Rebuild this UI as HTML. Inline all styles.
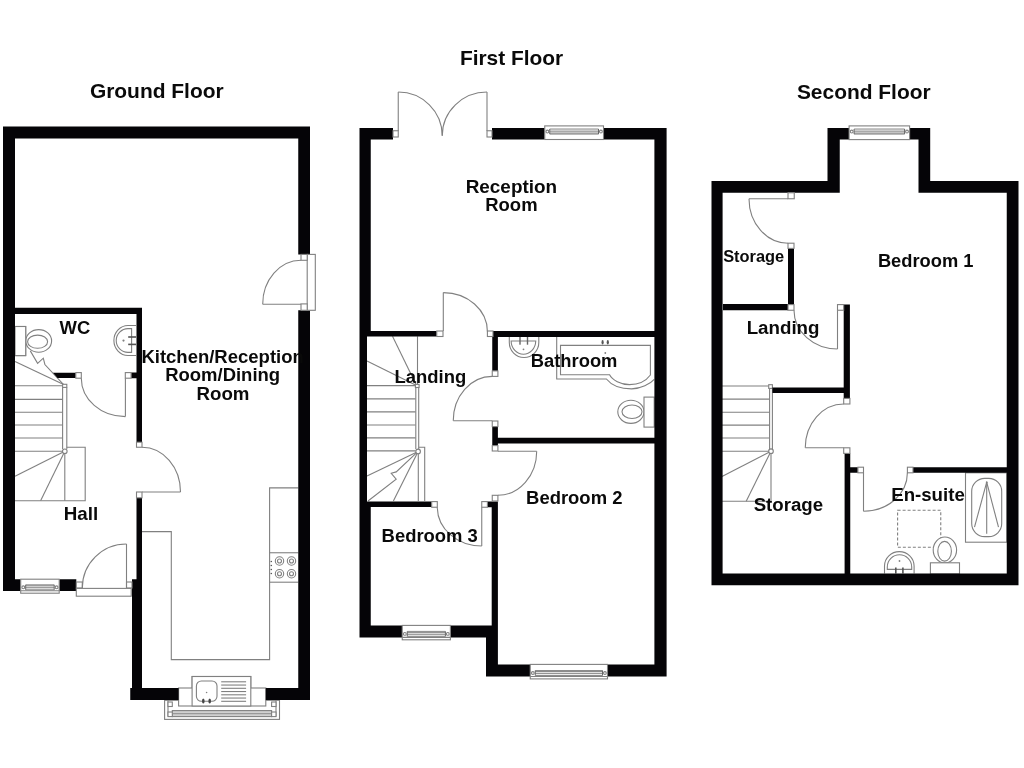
<!DOCTYPE html>
<html><head><meta charset="utf-8"><style>
html,body{margin:0;padding:0;background:#fff;width:1024px;height:768px;overflow:hidden}
svg{display:block}
text{font-family:"Liberation Sans",sans-serif;font-weight:bold;fill:#0a0a0a}
.tg{will-change:transform}
</style></head><body>
<svg width="1024" height="768" viewBox="0 0 1024 768">
<rect width="1024" height="768" fill="#fff"/>
<path d="M142.00,531.60 L171.30,531.60 L171.30,659.60 L269.60,659.60 L269.60,487.90 L298.25,487.90" fill="none" stroke="#808080" stroke-width="1.1"/>
<path d="M269.60,552.75 L298.25,552.75" fill="none" stroke="#808080" stroke-width="1.1"/>
<path d="M269.60,582.20 L298.25,582.20" fill="none" stroke="#808080" stroke-width="1.1"/>
<circle cx="279.50" cy="561.00" r="4.20" fill="none" stroke="#808080" stroke-width="1.1"/>
<circle cx="279.50" cy="561.00" r="2.00" fill="none" stroke="#808080" stroke-width="1.1"/>
<circle cx="291.50" cy="561.00" r="4.20" fill="none" stroke="#808080" stroke-width="1.1"/>
<circle cx="291.50" cy="561.00" r="2.00" fill="none" stroke="#808080" stroke-width="1.1"/>
<circle cx="279.50" cy="573.75" r="4.20" fill="none" stroke="#808080" stroke-width="1.1"/>
<circle cx="279.50" cy="573.75" r="2.00" fill="none" stroke="#808080" stroke-width="1.1"/>
<circle cx="291.50" cy="573.75" r="4.20" fill="none" stroke="#808080" stroke-width="1.1"/>
<circle cx="291.50" cy="573.75" r="2.00" fill="none" stroke="#808080" stroke-width="1.1"/>
<circle cx="271.30" cy="561.50" r="0.80" fill="#555" stroke="none" stroke-width="1.1"/>
<circle cx="271.30" cy="565.50" r="0.80" fill="#555" stroke="none" stroke-width="1.1"/>
<circle cx="271.30" cy="569.50" r="0.80" fill="#555" stroke="none" stroke-width="1.1"/>
<circle cx="271.30" cy="573.50" r="0.80" fill="#555" stroke="none" stroke-width="1.1"/>
<rect x="192.10" y="676.50" width="58.70" height="29.50" fill="#fff" stroke="#808080" stroke-width="1.1" />
<rect x="196.40" y="681.00" width="20.60" height="20.25" fill="none" stroke="#808080" stroke-width="1.1" rx="5" ry="5"/>
<circle cx="206.60" cy="692.50" r="0.80" fill="#808080" stroke="none" stroke-width="1.1"/>
<ellipse cx="203.30" cy="701.00" rx="1.30" ry="2.60" fill="#444" stroke="none" stroke-width="1.1"/>
<ellipse cx="209.70" cy="701.00" rx="1.30" ry="2.60" fill="#444" stroke="none" stroke-width="1.1"/>
<path d="M221.20,681.80 L246.10,681.80" fill="none" stroke="#808080" stroke-width="1.1"/>
<path d="M221.20,685.05 L246.10,685.05" fill="none" stroke="#808080" stroke-width="1.1"/>
<path d="M221.20,688.30 L246.10,688.30" fill="none" stroke="#808080" stroke-width="1.1"/>
<path d="M221.20,691.55 L246.10,691.55" fill="none" stroke="#808080" stroke-width="1.1"/>
<path d="M221.20,694.80 L246.10,694.80" fill="none" stroke="#808080" stroke-width="1.1"/>
<path d="M221.20,698.05 L246.10,698.05" fill="none" stroke="#808080" stroke-width="1.1"/>
<path d="M221.20,701.30 L246.10,701.30" fill="none" stroke="#808080" stroke-width="1.1"/>
<rect x="164.60" y="700.30" width="114.90" height="19.10" fill="#fff" stroke="#808080" stroke-width="1.1" />
<rect x="178.60" y="688.00" width="87.20" height="18.00" fill="#fff" stroke="#808080" stroke-width="1.1" />
<rect x="172.30" y="710.60" width="99.30" height="6.00" fill="#d0d0d0" stroke="#808080" stroke-width="1.1" />
<path d="M172.30,713.60 L271.60,713.60" fill="none" stroke="#999" stroke-width="1.1"/>
<path d="M168.00,700.30 L168.00,716.60" fill="none" stroke="#808080" stroke-width="1.1"/>
<path d="M276.00,700.30 L276.00,716.60" fill="none" stroke="#808080" stroke-width="1.1"/>
<rect x="168.00" y="702.00" width="4.30" height="4.50" fill="#fff" stroke="#808080" stroke-width="1.1" />
<rect x="271.60" y="702.00" width="4.40" height="4.50" fill="#fff" stroke="#808080" stroke-width="1.1" />
<rect x="168.00" y="712.00" width="4.30" height="4.60" fill="#fff" stroke="#808080" stroke-width="1.1" />
<rect x="271.60" y="712.00" width="4.40" height="4.60" fill="#fff" stroke="#808080" stroke-width="1.1" />
<rect x="192.10" y="676.50" width="58.70" height="29.50" fill="#fff" stroke="#808080" stroke-width="1.1" />
<rect x="196.40" y="681.00" width="20.60" height="20.25" fill="none" stroke="#808080" stroke-width="1.1" rx="5" ry="5"/>
<circle cx="206.60" cy="692.50" r="0.80" fill="#808080" stroke="none" stroke-width="1.1"/>
<ellipse cx="203.30" cy="701.00" rx="1.30" ry="2.60" fill="#444" stroke="none" stroke-width="1.1"/>
<ellipse cx="209.70" cy="701.00" rx="1.30" ry="2.60" fill="#444" stroke="none" stroke-width="1.1"/>
<path d="M221.20,681.80 L246.10,681.80" fill="none" stroke="#808080" stroke-width="1.1"/>
<path d="M221.20,685.05 L246.10,685.05" fill="none" stroke="#808080" stroke-width="1.1"/>
<path d="M221.20,688.30 L246.10,688.30" fill="none" stroke="#808080" stroke-width="1.1"/>
<path d="M221.20,691.55 L246.10,691.55" fill="none" stroke="#808080" stroke-width="1.1"/>
<path d="M221.20,694.80 L246.10,694.80" fill="none" stroke="#808080" stroke-width="1.1"/>
<path d="M221.20,698.05 L246.10,698.05" fill="none" stroke="#808080" stroke-width="1.1"/>
<path d="M221.20,701.30 L246.10,701.30" fill="none" stroke="#808080" stroke-width="1.1"/>
<rect x="15.00" y="326.50" width="10.70" height="29.10" fill="#fff" stroke="#808080" stroke-width="1.1" />
<ellipse cx="38.70" cy="340.90" rx="12.90" ry="11.30" fill="#fff" stroke="#808080" stroke-width="1.1"/>
<rect x="15.00" y="326.50" width="10.70" height="29.10" fill="#fff" stroke="#808080" stroke-width="1.1" />
<ellipse cx="37.60" cy="341.70" rx="10.00" ry="6.60" fill="none" stroke="#808080" stroke-width="1.1"/>
<path d="M136,325.5 L128,325.5 A14.1,15 0 0 0 128,355.5 L136,355.5" fill="#fff" stroke="#808080" stroke-width="1.1" />
<path d="M131.6,328.6 L128,328.6 A11.8,11.9 0 0 0 128,352.4 L131.6,352.4 Z" fill="none" stroke="#808080" stroke-width="1.1" />
<rect x="128.20" y="336.20" width="7.80" height="1.60" fill="#555" stroke="none" stroke-width="1.1" />
<rect x="128.20" y="343.60" width="7.80" height="1.60" fill="#555" stroke="none" stroke-width="1.1" />
<circle cx="123.50" cy="340.60" r="1.10" fill="#808080" stroke="none" stroke-width="1.1"/>
<path d="M15.00,361.40 L63.60,384.60" fill="none" stroke="#808080" stroke-width="1.1"/>
<path d="M30.30,350.90 L37.60,363.40 L43.30,358.20 L44.90,364.50 L63.60,384.60" fill="none" stroke="#808080" stroke-width="1.1"/>
<path d="M15.00,385.80 L62.60,385.80" fill="none" stroke="#808080" stroke-width="1.1"/>
<path d="M15.00,399.40 L62.60,399.40" fill="none" stroke="#808080" stroke-width="1.1"/>
<path d="M15.00,412.20 L62.60,412.20" fill="none" stroke="#808080" stroke-width="1.1"/>
<path d="M15.00,425.00 L62.60,425.00" fill="none" stroke="#808080" stroke-width="1.1"/>
<path d="M15.00,438.00 L62.60,438.00" fill="none" stroke="#808080" stroke-width="1.1"/>
<path d="M15.00,451.25 L62.60,451.25" fill="none" stroke="#808080" stroke-width="1.1"/>
<path d="M62.60,387.40 L62.60,449.00" fill="none" stroke="#808080" stroke-width="1.1"/>
<path d="M66.80,387.40 L66.80,449.00" fill="none" stroke="#808080" stroke-width="1.1"/>
<rect x="62.60" y="384.30" width="4.20" height="3.10" fill="#fff" stroke="#808080" stroke-width="1.1" />
<path d="M64.80,453.70 L64.80,500.80" fill="none" stroke="#808080" stroke-width="1.1"/>
<path d="M15.00,500.80 L85.20,500.80 L85.20,447.20 L66.80,447.20" fill="none" stroke="#808080" stroke-width="1.1"/>
<path d="M64.80,451.25 L15.00,476.25" fill="none" stroke="#808080" stroke-width="1.1"/>
<path d="M64.80,451.25 L40.60,500.80" fill="none" stroke="#808080" stroke-width="1.1"/>
<circle cx="64.80" cy="451.25" r="2.30" fill="#fff" stroke="#808080" stroke-width="1.1"/>
<path d="M3.00,126.50H310.00V138.50H3.00Z M3.00,126.50H15.00V591.00H3.00Z M298.25,126.50H310.00V254.40H298.25Z M298.25,310.30H310.00V700.00H298.25Z M130.25,688.00H178.60V700.00H130.25Z M265.80,688.00H310.00V700.00H265.80Z M132.00,579.20H142.00V700.00H132.00Z M3.00,579.20H20.70V590.90H3.00Z M59.20,579.20H76.30V590.90H59.20Z M136.50,307.70H142.00V442.20H136.50Z M136.50,497.80H142.00V579.20H136.50Z M15.00,307.70H142.00V314.00H15.00Z M53,372.8 L75.8,372.8 L75.8,378 L57.5,378 Z M131.10,372.60H136.50V378.20H131.10Z" fill="#050407"/>
<rect x="75.80" y="372.60" width="5.50" height="5.60" fill="#fff" stroke="#808080" stroke-width="1.1" />
<rect x="125.30" y="372.60" width="5.80" height="5.60" fill="#fff" stroke="#808080" stroke-width="1.1" />
<path d="M125.40,378.20 L125.40,416.60" fill="none" stroke="#808080" stroke-width="1.1"/>
<path d="M81.30,378.20 C81.30,399.41 101.04,416.60 125.40,416.60" fill="none" stroke="#808080" stroke-width="1.1"/>
<rect x="136.50" y="442.20" width="5.50" height="5.05" fill="#fff" stroke="#808080" stroke-width="1.1" />
<rect x="136.50" y="492.00" width="5.50" height="5.80" fill="#fff" stroke="#808080" stroke-width="1.1" />
<path d="M142.00,492.00 L180.50,492.00" fill="none" stroke="#808080" stroke-width="1.1"/>
<path d="M180.50,492.00 C180.50,467.28 163.26,447.25 142.00,447.25" fill="none" stroke="#808080" stroke-width="1.1"/>
<rect x="76.30" y="582.00" width="6.00" height="6.00" fill="#fff" stroke="#808080" stroke-width="1.1" />
<rect x="126.50" y="582.00" width="5.50" height="6.00" fill="#fff" stroke="#808080" stroke-width="1.1" />
<path d="M126.50,544.00 L126.50,588.00" fill="none" stroke="#808080" stroke-width="1.1"/>
<path d="M126.50,544.00 C102.09,544.00 82.30,563.70 82.30,588.00" fill="none" stroke="#808080" stroke-width="1.1"/>
<rect x="76.30" y="588.40" width="54.95" height="7.80" fill="#fff" stroke="#808080" stroke-width="1.1" />
<rect x="20.70" y="579.20" width="38.50" height="14.00" fill="#fff" stroke="#808080" stroke-width="1.1" />
<path d="M20.70,590.80 L59.20,590.80" fill="none" stroke="#808080" stroke-width="1.1"/>
<rect x="25.70" y="584.80" width="28.50" height="5.00" fill="#ececec" stroke="none" stroke-width="1.1" />
<path d="M25.70,584.80 L54.20,584.80" fill="none" stroke="#808080" stroke-width="0.9"/>
<path d="M25.70,585.80 L54.20,585.80" fill="none" stroke="#808080" stroke-width="0.9"/>
<path d="M25.70,587.70 L54.20,587.70" fill="none" stroke="#808080" stroke-width="0.9"/>
<path d="M25.70,589.80 L54.20,589.80" fill="none" stroke="#808080" stroke-width="0.9"/>
<path d="M25.70,584.80 L25.70,589.80" fill="none" stroke="#666" stroke-width="1.0"/>
<path d="M54.20,584.80 L54.20,589.80" fill="none" stroke="#666" stroke-width="1.0"/>
<circle cx="23.30" cy="587.30" r="1.40" fill="#fff" stroke="#808080" stroke-width="1.1"/>
<circle cx="56.60" cy="587.30" r="1.40" fill="#fff" stroke="#808080" stroke-width="1.1"/>
<rect x="307.20" y="254.40" width="8.10" height="55.90" fill="#fff" stroke="#808080" stroke-width="1.1" />
<rect x="301.00" y="254.40" width="6.20" height="5.90" fill="#fff" stroke="#808080" stroke-width="1.1" />
<rect x="301.00" y="303.90" width="6.20" height="6.40" fill="#fff" stroke="#808080" stroke-width="1.1" />
<path d="M262.70,304.20 L301.00,304.20" fill="none" stroke="#808080" stroke-width="1.1"/>
<path d="M262.70,304.20 C262.70,279.95 279.85,260.30 301.00,260.30" fill="none" stroke="#808080" stroke-width="1.1"/>
<path d="M417.50,336.25 L417.50,384.40" fill="none" stroke="#808080" stroke-width="1.1"/>
<path d="M392.50,336.25 L416.50,385.40" fill="none" stroke="#808080" stroke-width="1.1"/>
<path d="M367.00,361.00 L416.50,385.40" fill="none" stroke="#808080" stroke-width="1.1"/>
<path d="M367.00,385.60 L415.60,385.60" fill="none" stroke="#808080" stroke-width="1.1"/>
<path d="M367.00,398.90 L415.60,398.90" fill="none" stroke="#808080" stroke-width="1.1"/>
<path d="M367.00,411.90 L415.60,411.90" fill="none" stroke="#808080" stroke-width="1.1"/>
<path d="M367.00,425.00 L415.60,425.00" fill="none" stroke="#808080" stroke-width="1.1"/>
<path d="M367.00,437.90 L415.60,437.90" fill="none" stroke="#808080" stroke-width="1.1"/>
<path d="M367.00,450.90 L415.60,450.90" fill="none" stroke="#808080" stroke-width="1.1"/>
<path d="M415.80,387.50 L415.80,449.00" fill="none" stroke="#808080" stroke-width="1.1"/>
<path d="M418.70,387.50 L418.70,449.00" fill="none" stroke="#808080" stroke-width="1.1"/>
<rect x="415.40" y="384.40" width="3.70" height="3.10" fill="#fff" stroke="#808080" stroke-width="1.1" />
<path d="M418.30,453.60 L418.30,501.10" fill="none" stroke="#808080" stroke-width="1.1"/>
<path d="M418.70,447.30 L424.70,447.30 L424.70,501.10" fill="none" stroke="#808080" stroke-width="1.1"/>
<path d="M418.10,451.40 L367.00,476.00" fill="none" stroke="#808080" stroke-width="1.1"/>
<path d="M418.10,451.40 L393.40,501.10" fill="none" stroke="#808080" stroke-width="1.1"/>
<path d="M418.10,451.40 L396.20,471.90 L391.20,473.30 L396.20,479.20 L368.00,501.00" fill="none" stroke="#808080" stroke-width="1.1"/>
<circle cx="418.10" cy="451.40" r="2.30" fill="#fff" stroke="#808080" stroke-width="1.1"/>
<path d="M509.3,337 L509.3,342.5 A14.75,15 0 0 0 538.8,342.5 L538.8,337" fill="#fff" stroke="#808080" stroke-width="1.1" />
<path d="M511.1,341 A12.33,13.7 0 0 0 535.75,341 Z" fill="none" stroke="#808080" stroke-width="1.1" />
<rect x="519.30" y="336.80" width="1.40" height="7.90" fill="#666" stroke="none" stroke-width="1.1" />
<rect x="526.80" y="336.80" width="1.40" height="7.90" fill="#666" stroke="none" stroke-width="1.1" />
<circle cx="523.50" cy="349.30" r="0.90" fill="#808080" stroke="none" stroke-width="1.1"/>
<path d="M556.7,337 L556.7,379 L606.4,379 C612,386 622,388.9 631.6,388.9 C641,388.9 650,384 654.2,379.3" fill="none" stroke="#808080" stroke-width="1.1" />
<path d="M560.5,345.4 L650.4,345.4 L650.4,375 C646,381 638,384.6 629.5,384.6 C621,384.6 612,380 609.6,374.75 L560.5,374.75 Z" fill="none" stroke="#808080" stroke-width="1.1" />
<ellipse cx="602.60" cy="342.20" rx="1.10" ry="2.20" fill="#555" stroke="none" stroke-width="1.1"/>
<ellipse cx="607.80" cy="342.20" rx="1.10" ry="2.20" fill="#555" stroke="none" stroke-width="1.1"/>
<circle cx="605.30" cy="353.00" r="0.90" fill="#808080" stroke="none" stroke-width="1.1"/>
<ellipse cx="630.90" cy="411.85" rx="13.10" ry="11.55" fill="#fff" stroke="#808080" stroke-width="1.1"/>
<ellipse cx="632.00" cy="411.75" rx="10.00" ry="6.75" fill="none" stroke="#808080" stroke-width="1.1"/>
<rect x="644.00" y="397.10" width="10.20" height="30.00" fill="#fff" stroke="#808080" stroke-width="1.1" />
<path d="M359.50,128.00H393.00V139.50H359.50Z M492.00,128.00H544.75V139.50H492.00Z M603.50,128.00H666.60V139.50H603.50Z M359.50,128.00H370.75V336.50H359.50Z M359.50,331.00H367.00V502.00H359.50Z M359.50,501.60H370.75V637.60H359.50Z M654.40,128.00H666.60V676.60H654.40Z M370.75,331.00H436.75V336.50H370.75Z M493.00,331.00H654.40V336.90H493.00Z M492.25,331.00H497.90V370.90H492.25Z M492.25,426.60H497.90V445.60H492.25Z M497.90,437.75H654.40V443.40H497.90Z M367.00,501.40H431.70V507.10H367.00Z M487.40,501.60H497.90V507.25H487.40Z M491.70,501.60H497.90V637.00H491.70Z M486.00,625.40H497.90V676.60H486.00Z M359.50,625.40H402.25V637.50H359.50Z M450.40,625.40H497.90V637.50H450.40Z M486.00,664.40H530.25V676.60H486.00Z M607.50,664.40H666.60V676.60H607.50Z" fill="#050407"/>
<rect x="544.75" y="125.90" width="58.75" height="13.60" fill="#fff" stroke="#808080" stroke-width="1.1" />
<rect x="549.75" y="129.00" width="48.75" height="5.10" fill="#ececec" stroke="none" stroke-width="1.1" />
<path d="M549.75,129.00 L598.50,129.00" fill="none" stroke="#808080" stroke-width="0.9"/>
<path d="M549.75,131.20 L598.50,131.20" fill="none" stroke="#808080" stroke-width="0.9"/>
<path d="M549.75,133.10 L598.50,133.10" fill="none" stroke="#808080" stroke-width="0.9"/>
<path d="M549.75,134.10 L598.50,134.10" fill="none" stroke="#808080" stroke-width="0.9"/>
<path d="M549.75,129.00 L549.75,134.10" fill="none" stroke="#666" stroke-width="1.0"/>
<path d="M598.50,129.00 L598.50,134.10" fill="none" stroke="#666" stroke-width="1.0"/>
<circle cx="547.35" cy="131.55" r="1.40" fill="#fff" stroke="#808080" stroke-width="1.1"/>
<circle cx="600.90" cy="131.55" r="1.40" fill="#fff" stroke="#808080" stroke-width="1.1"/>
<rect x="402.25" y="625.40" width="48.15" height="14.40" fill="#fff" stroke="#808080" stroke-width="1.1" />
<path d="M402.25,637.40 L450.40,637.40" fill="none" stroke="#808080" stroke-width="1.1"/>
<rect x="407.25" y="631.40" width="38.15" height="5.00" fill="#ececec" stroke="none" stroke-width="1.1" />
<path d="M407.25,631.40 L445.40,631.40" fill="none" stroke="#808080" stroke-width="0.9"/>
<path d="M407.25,632.40 L445.40,632.40" fill="none" stroke="#808080" stroke-width="0.9"/>
<path d="M407.25,634.30 L445.40,634.30" fill="none" stroke="#808080" stroke-width="0.9"/>
<path d="M407.25,636.40 L445.40,636.40" fill="none" stroke="#808080" stroke-width="0.9"/>
<path d="M407.25,631.40 L407.25,636.40" fill="none" stroke="#666" stroke-width="1.0"/>
<path d="M445.40,631.40 L445.40,636.40" fill="none" stroke="#666" stroke-width="1.0"/>
<circle cx="404.85" cy="633.90" r="1.40" fill="#fff" stroke="#808080" stroke-width="1.1"/>
<circle cx="447.80" cy="633.90" r="1.40" fill="#fff" stroke="#808080" stroke-width="1.1"/>
<rect x="530.25" y="664.40" width="77.25" height="14.50" fill="#fff" stroke="#808080" stroke-width="1.1" />
<path d="M530.25,676.50 L607.50,676.50" fill="none" stroke="#808080" stroke-width="1.1"/>
<rect x="535.25" y="670.50" width="67.25" height="5.00" fill="#ececec" stroke="none" stroke-width="1.1" />
<path d="M535.25,670.50 L602.50,670.50" fill="none" stroke="#808080" stroke-width="0.9"/>
<path d="M535.25,671.50 L602.50,671.50" fill="none" stroke="#808080" stroke-width="0.9"/>
<path d="M535.25,673.40 L602.50,673.40" fill="none" stroke="#808080" stroke-width="0.9"/>
<path d="M535.25,675.50 L602.50,675.50" fill="none" stroke="#808080" stroke-width="0.9"/>
<path d="M535.25,670.50 L535.25,675.50" fill="none" stroke="#666" stroke-width="1.0"/>
<path d="M602.50,670.50 L602.50,675.50" fill="none" stroke="#666" stroke-width="1.0"/>
<circle cx="532.85" cy="673.00" r="1.40" fill="#fff" stroke="#808080" stroke-width="1.1"/>
<circle cx="604.90" cy="673.00" r="1.40" fill="#fff" stroke="#808080" stroke-width="1.1"/>
<rect x="393.00" y="130.75" width="5.25" height="6.25" fill="#fff" stroke="#808080" stroke-width="1.1" />
<rect x="487.00" y="130.75" width="5.00" height="6.25" fill="#fff" stroke="#808080" stroke-width="1.1" />
<path d="M398.25,92.00 L398.25,131.00" fill="none" stroke="#808080" stroke-width="1.1"/>
<path d="M487.00,92.00 L487.00,131.00" fill="none" stroke="#808080" stroke-width="1.1"/>
<path d="M398.25,92.00 C422.55,92.00 442.25,111.59 442.25,135.75" fill="none" stroke="#808080" stroke-width="1.1"/>
<path d="M487.00,92.00 C462.28,92.00 442.25,111.59 442.25,135.75" fill="none" stroke="#808080" stroke-width="1.1"/>
<rect x="436.75" y="331.00" width="6.25" height="5.50" fill="#fff" stroke="#808080" stroke-width="1.1" />
<rect x="487.40" y="331.00" width="5.60" height="5.50" fill="#fff" stroke="#808080" stroke-width="1.1" />
<path d="M443.30,292.60 L443.30,331.00" fill="none" stroke="#808080" stroke-width="1.1"/>
<path d="M443.30,292.60 C467.66,292.60 487.40,310.02 487.40,331.50" fill="none" stroke="#808080" stroke-width="1.1"/>
<rect x="492.25" y="370.90" width="5.65" height="5.50" fill="#fff" stroke="#808080" stroke-width="1.1" />
<rect x="492.25" y="421.00" width="5.65" height="5.60" fill="#fff" stroke="#808080" stroke-width="1.1" />
<path d="M453.25,420.80 L492.25,420.80" fill="none" stroke="#808080" stroke-width="1.1"/>
<path d="M453.25,420.80 C453.25,396.28 470.71,376.40 492.25,376.40" fill="none" stroke="#808080" stroke-width="1.1"/>
<rect x="492.25" y="445.60" width="5.65" height="5.40" fill="#fff" stroke="#808080" stroke-width="1.1" />
<rect x="492.25" y="495.30" width="5.65" height="5.70" fill="#fff" stroke="#808080" stroke-width="1.1" />
<path d="M497.90,451.25 L536.70,451.25" fill="none" stroke="#808080" stroke-width="1.1"/>
<path d="M536.70,451.25 C536.70,475.58 519.33,495.30 497.90,495.30" fill="none" stroke="#808080" stroke-width="1.1"/>
<rect x="431.70" y="501.60" width="5.60" height="5.65" fill="#fff" stroke="#808080" stroke-width="1.1" />
<rect x="481.75" y="501.60" width="5.65" height="5.65" fill="#fff" stroke="#808080" stroke-width="1.1" />
<path d="M481.75,507.25 L481.75,546.00" fill="none" stroke="#808080" stroke-width="1.1"/>
<path d="M437.30,507.25 C437.30,528.65 457.20,546.00 481.75,546.00" fill="none" stroke="#808080" stroke-width="1.1"/>
<path d="M722.00,386.00 L768.70,386.00" fill="none" stroke="#808080" stroke-width="1.1"/>
<path d="M722.00,399.10 L769.60,399.10" fill="none" stroke="#808080" stroke-width="1.1"/>
<path d="M722.00,412.20 L769.60,412.20" fill="none" stroke="#808080" stroke-width="1.1"/>
<path d="M722.00,425.10 L769.60,425.10" fill="none" stroke="#808080" stroke-width="1.1"/>
<path d="M722.00,438.00 L769.60,438.00" fill="none" stroke="#808080" stroke-width="1.1"/>
<path d="M722.00,451.20 L769.60,451.20" fill="none" stroke="#808080" stroke-width="1.1"/>
<path d="M769.60,388.40 L769.60,449.00" fill="none" stroke="#808080" stroke-width="1.1"/>
<path d="M772.40,388.40 L772.40,449.00" fill="none" stroke="#808080" stroke-width="1.1"/>
<rect x="768.70" y="384.70" width="3.70" height="3.70" fill="#fff" stroke="#808080" stroke-width="1.1" />
<path d="M771.00,453.50 L771.00,501.25" fill="none" stroke="#808080" stroke-width="1.1"/>
<path d="M721.00,501.25 L771.00,501.25" fill="none" stroke="#808080" stroke-width="1.1"/>
<path d="M771.00,451.20 L721.00,476.90" fill="none" stroke="#808080" stroke-width="1.1"/>
<path d="M771.00,451.20 L746.20,501.25" fill="none" stroke="#808080" stroke-width="1.1"/>
<circle cx="771.00" cy="451.20" r="2.30" fill="#fff" stroke="#808080" stroke-width="1.1"/>
<rect x="965.50" y="472.80" width="41.25" height="69.40" fill="#fff" stroke="#808080" stroke-width="1.1" />
<rect x="971.70" y="478.40" width="30.00" height="58.20" fill="none" stroke="#808080" stroke-width="1.1" rx="13" ry="13"/>
<path d="M986.70,482.20 L974.50,527.20" fill="none" stroke="#808080" stroke-width="1.1"/>
<path d="M986.70,482.20 L986.70,533.75" fill="none" stroke="#808080" stroke-width="1.1"/>
<path d="M986.70,482.20 L998.50,527.20" fill="none" stroke="#808080" stroke-width="1.1"/>
<circle cx="986.70" cy="482.20" r="0.90" fill="#808080" stroke="none" stroke-width="1.1"/>
<rect x="897.60" y="510.30" width="43.15" height="36.95" fill="none" stroke="#808080" stroke-width="1.1" stroke-dasharray="3,2"/>
<ellipse cx="944.90" cy="550.00" rx="11.70" ry="12.95" fill="#fff" stroke="#808080" stroke-width="1.1"/>
<ellipse cx="944.60" cy="551.25" rx="6.80" ry="9.85" fill="none" stroke="#808080" stroke-width="1.1"/>
<rect x="930.40" y="562.80" width="29.10" height="11.20" fill="#fff" stroke="#808080" stroke-width="1.1" />
<path d="M884.5,573.5 L884.5,566 A14.8,14.4 0 0 1 914.1,566 L914.1,573.5" fill="#fff" stroke="#808080" stroke-width="1.1" />
<path d="M887.3,569.4 L887.3,566.9 A12.2,12.2 0 0 1 911.7,566.9 L911.7,569.4 Z" fill="none" stroke="#808080" stroke-width="1.1" />
<rect x="895.00" y="567.50" width="1.60" height="6.00" fill="#555" stroke="none" stroke-width="1.1" />
<rect x="902.10" y="567.50" width="1.60" height="6.00" fill="#555" stroke="none" stroke-width="1.1" />
<circle cx="899.50" cy="561.00" r="0.90" fill="#808080" stroke="none" stroke-width="1.1"/>
<path d="M711.50,181.00H839.75V192.75H711.50Z M827.50,128.00H839.75V192.75H827.50Z M827.50,128.00H849.10V139.60H827.50Z M909.60,128.00H930.20V139.60H909.60Z M918.50,128.00H930.20V192.75H918.50Z M918.50,181.00H1018.50V192.75H918.50Z M1006.75,181.00H1018.50V585.30H1006.75Z M711.50,181.00H722.60V585.30H711.50Z M711.50,573.50H1018.50V585.30H711.50Z M788.00,248.40H794.00V304.70H788.00Z M723.00,304.10H788.00V310.30H723.00Z M843.70,304.60H849.90V398.40H843.70Z M772.40,387.50H843.70V393.10H772.40Z M844.60,453.40H850.25V573.50H844.60Z M850.25,467.20H857.90V472.80H850.25Z M913.00,467.20H1006.75V472.80H913.00Z" fill="#050407"/>
<rect x="849.10" y="125.90" width="60.50" height="13.70" fill="#fff" stroke="#808080" stroke-width="1.1" />
<rect x="854.10" y="129.00" width="50.50" height="5.10" fill="#ececec" stroke="none" stroke-width="1.1" />
<path d="M854.10,129.00 L904.60,129.00" fill="none" stroke="#808080" stroke-width="0.9"/>
<path d="M854.10,131.20 L904.60,131.20" fill="none" stroke="#808080" stroke-width="0.9"/>
<path d="M854.10,133.10 L904.60,133.10" fill="none" stroke="#808080" stroke-width="0.9"/>
<path d="M854.10,134.10 L904.60,134.10" fill="none" stroke="#808080" stroke-width="0.9"/>
<path d="M854.10,129.00 L854.10,134.10" fill="none" stroke="#666" stroke-width="1.0"/>
<path d="M904.60,129.00 L904.60,134.10" fill="none" stroke="#666" stroke-width="1.0"/>
<circle cx="851.70" cy="131.55" r="1.40" fill="#fff" stroke="#808080" stroke-width="1.1"/>
<circle cx="907.00" cy="131.55" r="1.40" fill="#fff" stroke="#808080" stroke-width="1.1"/>
<rect x="788.00" y="192.75" width="6.25" height="6.00" fill="#fff" stroke="#808080" stroke-width="1.1" />
<rect x="788.00" y="243.20" width="6.00" height="5.20" fill="#fff" stroke="#808080" stroke-width="1.1" />
<path d="M749.00,198.75 L788.00,198.75" fill="none" stroke="#808080" stroke-width="1.1"/>
<path d="M749.00,198.75 C749.00,223.30 766.46,243.20 788.00,243.20" fill="none" stroke="#808080" stroke-width="1.1"/>
<rect x="788.00" y="304.60" width="6.00" height="5.65" fill="#fff" stroke="#808080" stroke-width="1.1" />
<rect x="837.50" y="304.60" width="6.20" height="5.65" fill="#fff" stroke="#808080" stroke-width="1.1" />
<path d="M837.50,310.25 L837.50,349.00" fill="none" stroke="#808080" stroke-width="1.1"/>
<path d="M794.00,310.25 C794.00,331.65 813.47,349.00 837.50,349.00" fill="none" stroke="#808080" stroke-width="1.1"/>
<rect x="843.70" y="398.40" width="6.20" height="5.60" fill="#fff" stroke="#808080" stroke-width="1.1" />
<rect x="843.70" y="447.80" width="6.20" height="5.60" fill="#fff" stroke="#808080" stroke-width="1.1" />
<path d="M805.25,447.80 L843.70,447.80" fill="none" stroke="#808080" stroke-width="1.1"/>
<path d="M805.25,447.80 C805.25,423.61 822.46,404.00 843.70,404.00" fill="none" stroke="#808080" stroke-width="1.1"/>
<rect x="857.90" y="467.20" width="5.60" height="5.60" fill="#fff" stroke="#808080" stroke-width="1.1" />
<rect x="907.40" y="467.20" width="5.60" height="5.60" fill="#fff" stroke="#808080" stroke-width="1.1" />
<path d="M863.50,472.80 L863.50,511.25" fill="none" stroke="#808080" stroke-width="1.1"/>
<path d="M863.50,511.25 C887.75,511.25 907.40,494.04 907.40,472.80" fill="none" stroke="#808080" stroke-width="1.1"/>
<g class="tg" opacity="0.999"><text x="89.90" y="97.80" font-size="20.94px">Ground Floor</text>
<text x="459.90" y="65.40" font-size="20.92px">First Floor</text>
<text x="796.90" y="99.20" font-size="20.95px">Second Floor</text>
<text x="59.55" y="333.80" font-size="18.41px">WC</text>
<text x="141.40" y="362.50" font-size="18.5px">Kitchen/Reception</text>
<text x="165.20" y="380.90" font-size="18.48px">Room/Dining</text>
<text x="196.55" y="399.90" font-size="18.7px">Room</text>
<text x="63.75" y="519.95" font-size="18.78px">Hall</text>
<text x="465.70" y="192.90" font-size="18.91px">Reception</text>
<text x="485.30" y="211.40" font-size="18.46px">Room</text>
<text x="394.55" y="383.00" font-size="18.45px">Landing</text>
<text x="530.80" y="367.20" font-size="18.35px">Bathroom</text>
<text x="526.10" y="503.80" font-size="18.47px">Bedroom 2</text>
<text x="381.60" y="541.80" font-size="18.43px">Bedroom 3</text>
<text x="723.20" y="262.20" font-size="16.4px">Storage</text>
<text x="877.90" y="266.60" font-size="18.3px">Bedroom 1</text>
<text x="746.70" y="334.40" font-size="18.73px">Landing</text>
<text x="753.65" y="510.80" font-size="18.67px">Storage</text>
<text x="891.20" y="501.20" font-size="18.67px">En-suite</text></g>
</svg></body></html>
